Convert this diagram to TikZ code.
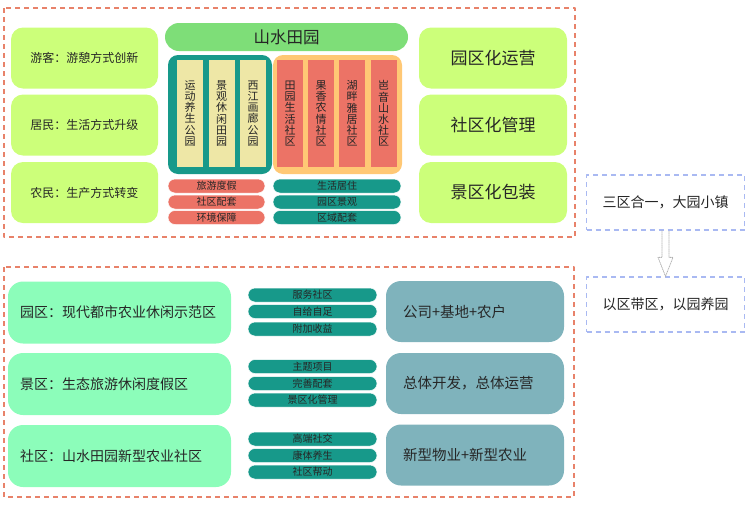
\documentclass[tikz,border=0pt]{standalone}
\usepackage{fontspec}
\newfontfamily\cjk{Noto Sans CJK SC}
\usepackage{xcolor}
\usetikzlibrary{calc,positioning}
\definecolor{limegr}{HTML}{CCFF7A}
\definecolor{bargr}{HTML}{7EDE78}
\definecolor{tealc}{HTML}{17998A}
\definecolor{paleyel}{HTML}{EEE7A6}
\definecolor{orangefr}{HTML}{FFC875}
\definecolor{redc}{HTML}{EC7366}
\definecolor{mintgr}{HTML}{8CFDBA}
\definecolor{steelc}{HTML}{7FB3BC}
\definecolor{dashor}{HTML}{E8826A}
\definecolor{dashbl}{HTML}{A9B9F2}
\definecolor{txtc}{HTML}{262626}

\begin{document}
\begin{tikzpicture}[x=1pt,y=-1pt,line cap=round,line join=round,
  every node/.style={font=\cjk,text=txtc,inner sep=0pt},
  orframe/.style={draw=dashor,line width=1.3pt,line cap=butt,dash pattern=on 5pt off 4pt},
  blframe/.style={draw=dashbl,line width=1.3pt,line cap=butt,dash pattern=on 5pt off 4pt,
    minimum width=158pt,minimum height=55pt,font={\cjk\fontsize{14}{16}\selectfont}},
  limebox/.style={fill=limegr,rounded corners=12pt,minimum height=61pt},
  colbox/.style={minimum width=26pt,minimum height=107pt,align=center,
    font={\cjk\fontsize{11}{11.2}\selectfont}},
  pill/.style={rounded corners=7pt,minimum height=14pt,draw=white,line width=0.5pt,
    font={\cjk\fontsize{10}{12}\selectfont}},
  mintbox/.style={fill=mintgr,rounded corners=15pt,minimum width=223pt,minimum height=62pt,
    text width=199pt,inner xsep=12pt,align=left,font={\cjk\fontsize{14}{16}\selectfont}},
  steelbox/.style={fill=steelc,rounded corners=15pt,minimum width=178pt,minimum height=61pt,
    text width=144pt,inner xsep=17pt,align=left,font={\cjk\fontsize{14.5}{16}\selectfont}},
  hollowarrow/.style={draw=gray!60,densely dotted,line width=0.8pt}]
\useasboundingbox (0,0) rectangle (750,504);

% upper block
\draw[orframe] (4,8) rectangle (575,237);
\node[limebox,minimum width=147pt,font={\cjk\fontsize{12}{14}\selectfont}] (youke) at (84.5,58) {游客：游憩方式创新};
\node[limebox,minimum width=147pt,font={\cjk\fontsize{12}{14}\selectfont}] (jumin) at (84.5,125) {居民：生活方式升级};
\node[limebox,minimum width=147pt,font={\cjk\fontsize{12}{14}\selectfont}] (nongmin) at (84.5,192.5) {农民：生产方式转变};
\node[limebox,minimum width=148pt,font={\cjk\fontsize{17}{19}\selectfont}] (yunying) at (493,58) {园区化运营};
\node[limebox,minimum width=148pt,font={\cjk\fontsize{17}{19}\selectfont}] (guanli) at (493,125) {社区化管理};
\node[limebox,minimum width=148pt,font={\cjk\fontsize{17}{19}\selectfont}] (baozhuang) at (493,192.5) {景区化包装};

\node[fill=bargr,rounded corners=14pt,minimum width=243pt,minimum height=28pt,
  font={\cjk\fontsize{16.5}{18}\selectfont}] (shanshui) at (286.5,37) {山水田园};

% parks and communities
\node[fill=tealc,rounded corners=10pt,minimum width=104pt,minimum height=119pt] (parks) at (220,114.5) {};
\node[fill=orangefr,rounded corners=10pt,minimum width=129pt,minimum height=119pt] (comms) at (337.5,114.5) {};
\node[colbox,fill=paleyel] (yundong) at (190,113.5) {运\\动\\养\\生\\公\\园};
\node[colbox,fill=paleyel] (jingguan) at (221.5,113.5) {景\\观\\休\\闲\\田\\园};
\node[colbox,fill=paleyel] (xijiang) at (253,113.5) {西\\江\\画\\廊\\公\\园};
\node[colbox,fill=redc] (tianyuan) at (290,113.5) {田\\园\\生\\活\\社\\区};
\node[colbox,fill=redc] (guoxiang) at (321,113.5) {果\\香\\农\\情\\社\\区};
\node[colbox,fill=redc] (hupan) at (352,113.5) {湖\\畔\\雅\\居\\社\\区};
\node[colbox,fill=redc] (qiyin) at (383.5,113.5) {岜\\音\\山\\水\\社\\区};

\node[pill,fill=redc,minimum width=97pt] (lvyou) at (216.5,186) {旅游度假};
\node[pill,fill=redc,minimum width=97pt] (shequpt) at (216.5,202) {社区配套};
\node[pill,fill=redc,minimum width=97pt] (huanjing) at (216.5,217.5) {环境保障};
\node[pill,fill=tealc,minimum width=128pt] (shenghuo) at (337,186) {生活居住};
\node[pill,fill=tealc,minimum width=128pt] (yuanqu) at (337,202) {园区景观};
\node[pill,fill=tealc,minimum width=128pt] (quyu) at (337,217.5) {区域配套};

% lower block
\draw[orframe] (4,267) rectangle (574,497);
\node[mintbox] (yqzone) at (119.5,312.5) {园区：现代都市农业休闲示范区};
\node[mintbox] (jqzone) at (119.5,384) {景区：生态旅游休闲度假区};
\node[mintbox] (sqzone) at (119.5,456) {社区：山水田园新型农业社区};

\node[pill,fill=tealc,minimum width=129pt] (fuwu) at (312.5,295) {服务社区};
\node[pill,fill=tealc,minimum width=129pt] (zigei) at (312.5,311.5) {自给自足};
\node[pill,fill=tealc,minimum width=129pt] (fujia) at (312.5,329) {附加收益};
\node[pill,fill=tealc,minimum width=129pt] (zhuti) at (312.5,366.5) {主题项目};
\node[pill,fill=tealc,minimum width=129pt] (wanshan) at (312.5,383.5) {完善配套};
\node[pill,fill=tealc,minimum width=129pt] (jqgl) at (312.5,400) {景区化管理};
\node[pill,fill=tealc,minimum width=129pt] (gaoduan) at (312.5,439) {高端社交};
\node[pill,fill=tealc,minimum width=129pt] (kangti) at (312.5,455.5) {康体养生};
\node[pill,fill=tealc,minimum width=129pt] (bangdong) at (312.5,472) {社区帮动};

\node[steelbox] (gongsi) at (475,311.5) {公司+基地+农户};
\node[steelbox] (zongti) at (475,383.5) {总体开发，总体运营};
\node[steelbox] (wuye) at (475,455) {新型物业+新型农业};

% side notes
\node[blframe] (sanqu) at (665.5,202.5) {三区合一，大园小镇};
\node[blframe] (yiqu) at (665.5,304.5) {以区带区，以园养园};
\draw[hollowarrow] ($(sanqu.south)+(-3.5,0)$) -- ($(yiqu.north)+(-3.5,-19)$)
  -- ($(yiqu.north)+(-7.5,-19)$) -- (yiqu.north) -- ($(yiqu.north)+(7.5,-19)$)
  -- ($(yiqu.north)+(3.5,-19)$) -- ($(sanqu.south)+(3.5,0)$);
\end{tikzpicture}
\end{document}
